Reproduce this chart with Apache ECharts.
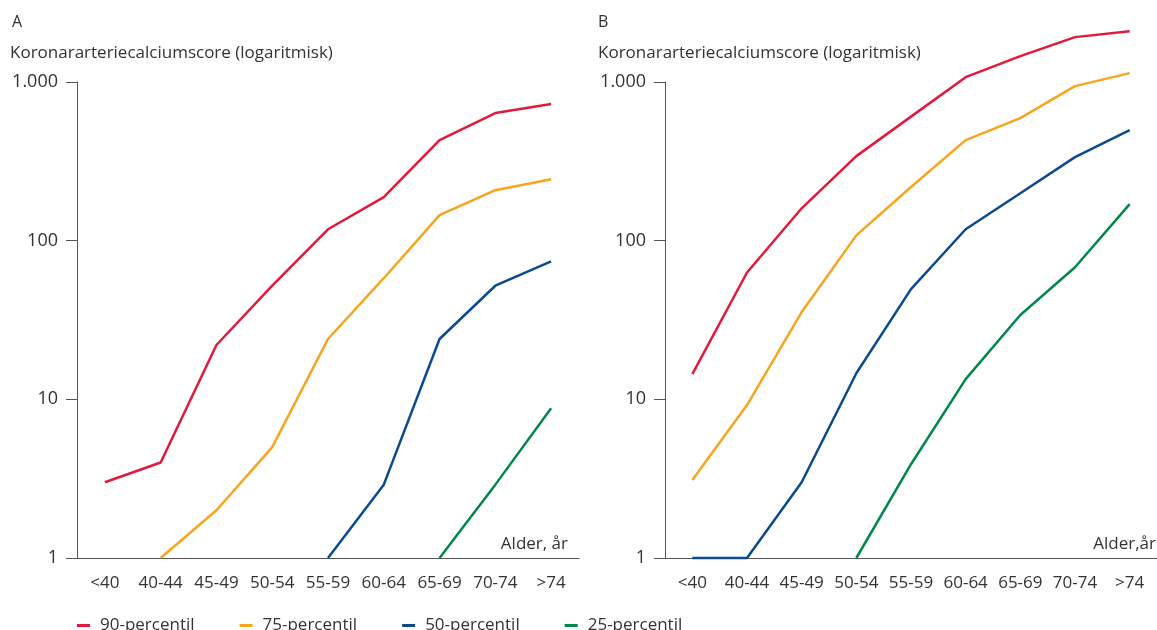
<!DOCTYPE html>
<html>
<head>
<meta charset="utf-8">
<script src="https://cdn.jsdelivr.net/npm/echarts@6/dist/echarts.min.js"></script>
<style>
  html, body { margin: 0; padding: 0; background: #fff; }
  #main { width: 1157px; height: 630px; }
</style>
</head>
<body>
<div id="main"></div>
<script type="text/javascript">
// age groups (x axis)
var ages = ['<40', '40-44', '45-49', '50-54', '55-59', '60-64', '65-69', '70-74', '>74'];
var names = ['90-percentil', '75-percentil', '50-percentil', '25-percentil'];

// panel A
var a90 = [3, 4, 22, 52, 118, 188, 430, 637, 726];
var a75 = [null, 1, 2, 5, 24, 58, 145, 208, 244];
var a50 = [null, null, null, null, 1, 2.9, 24, 52, 74];
var a25 = [null, null, null, null, null, null, 1, 2.9, 8.8];

// panel B
var b90 = [14.4, 63, 160, 341, 605, 1073, 1456, 1918, 2092];
var b75 = [3.1, 9.2, 35.5, 108, 218, 430, 592, 942, 1138];
var b50 = [1, 1, 3, 14.6, 49.5, 118, 199, 336, 498];
var b25 = [null, null, null, 1, 3.9, 13.4, 34, 68, 170];

var colors = ['#e2183c', '#f7a51e', '#0b4a8c', '#00884a'];
var font = '"Open Sans", "Noto Sans", sans-serif';

var chart = echarts.init(document.getElementById('main'));

function xAx(idx) {
    return {
        type: 'category', gridIndex: idx, data: ages, boundaryGap: true,
        axisLine: { lineStyle: { color: '#555', width: 1 } },
        axisTick: { length: 10, lineStyle: { color: '#555' } },
        axisLabel: { color: '#333', fontSize: 17, fontFamily: font, margin: 17, interval: 0 }
    };
}
function yAx(idx) {
    return {
        type: 'log', logBase: 10, gridIndex: idx, min: 1, max: 1000,
        axisLine: { show: true, lineStyle: { color: '#555', width: 1 } },
        axisTick: { show: true, length: 11, lineStyle: { color: '#555' } },
        minorTick: { show: false },
        splitLine: { show: false },
        axisLabel: {
            color: '#333', fontSize: 18, fontFamily: font, margin: 19,
            formatter: function (v) { return v === 1000 ? '1.000' : String(v); }
        }
    };
}
function line(name, data, idx, c) {
    return {
        name: name, type: 'line', xAxisIndex: idx, yAxisIndex: idx,
        data: data, showSymbol: false, symbol: 'none', clip: false,
        lineStyle: { color: c, width: 2.5 }, itemStyle: { color: c }
    };
}

var option = {
    animation: false,
    textStyle: { fontFamily: font },
    grid: [
        { left: 77, top: 82, width: 502, height: 476 },
        { left: 665, top: 82, width: 502, height: 476 }
    ],
    xAxis: [xAx(0), xAx(1)],
    yAxis: [yAx(0), yAx(1)],
    legend: {
        data: names, left: 72, top: 612,
        icon: 'rect', itemWidth: 13, itemHeight: 3, itemGap: 45,
        textStyle: { color: '#333', fontSize: 17, fontFamily: font, padding: [0, 0, 0, 5] }
    },
    graphic: [
        { type: 'text', left: 12, top: 14, style: { text: 'A', fontSize: 16, fontFamily: font, fill: '#333' } },
        { type: 'text', left: 598, top: 14, style: { text: 'B', fontSize: 16, fontFamily: font, fill: '#333' } },
        { type: 'text', left: 10, top: 45, style: { text: 'Koronararteriecalciumscore (logaritmisk)', fontSize: 17, fontFamily: font, fill: '#333' } },
        { type: 'text', left: 598, top: 45, style: { text: 'Koronararteriecalciumscore (logaritmisk)', fontSize: 17, fontFamily: font, fill: '#333' } },
        { type: 'text', right: 1157 - 568, top: 536, style: { text: 'Alder, år', fontSize: 17, fontFamily: font, fill: '#333' } },
        { type: 'text', right: 1, top: 536, style: { text: 'Alder,år', fontSize: 17, fontFamily: font, fill: '#333' } }
    ],
    series: [
        line(names[0], a90, 0, colors[0]),
        line(names[1], a75, 0, colors[1]),
        line(names[2], a50, 0, colors[2]),
        line(names[3], a25, 0, colors[3]),
        line(names[0], b90, 1, colors[0]),
        line(names[1], b75, 1, colors[1]),
        line(names[2], b50, 1, colors[2]),
        line(names[3], b25, 1, colors[3])
    ]
};
chart.setOption(option);
</script>
</body>
</html>
